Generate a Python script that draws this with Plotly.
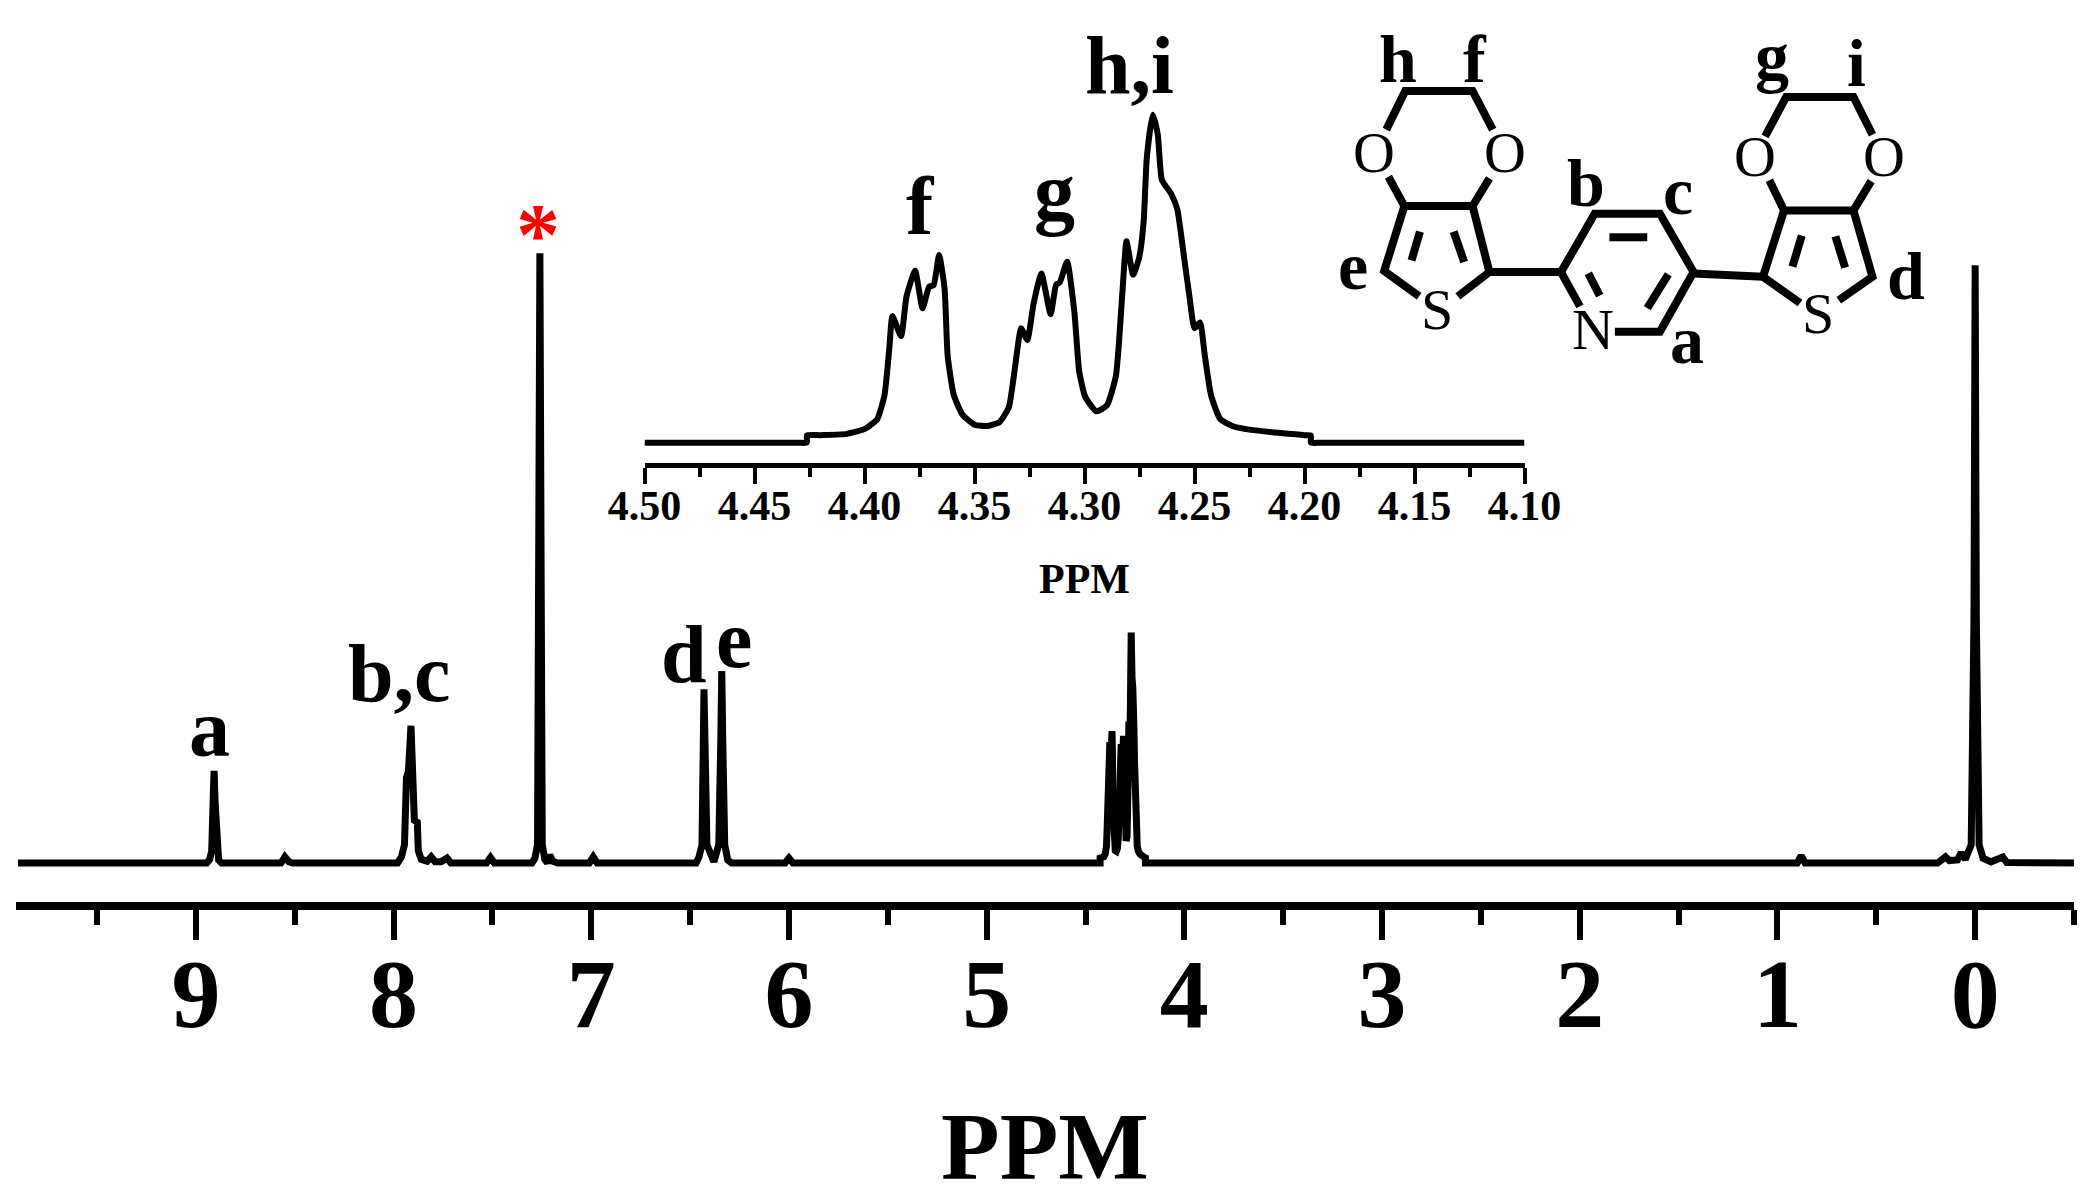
import plotly.graph_objects as go

SERIF = "Liberation Serif"

# main spectrum (ppm, intensity with the CHCl3 peak = 100)
LEFT_PPM = [9.90, 8.945, 8.93, 8.92, 8.913, 8.908, 8.903, 8.895, 8.885, 8.87,
            8.57, 8.55, 8.53, 8.51,
            7.98, 7.96, 7.945, 7.935, 7.925, 7.912, 7.905, 7.895, 7.88, 7.875, 7.86,
            7.83, 7.81, 7.79, 7.76, 7.73, 7.71,
            7.53, 7.51, 7.49,
            7.30, 7.285, 7.272, 7.266, 7.26, 7.254, 7.248, 7.235, 7.222, 7.21, 7.195, 7.17,
            7.01, 6.99, 6.97,
            6.47, 6.455, 6.44, 6.435, 6.43, 6.425, 6.415, 6.38,
            6.355, 6.345, 6.34, 6.335, 6.325, 6.31, 6.29,
            6.02, 6.00, 5.98]
LEFT_INT = [0, 0, 0.6, 2, 10, 15.1, 10, 2, 0.5, 0,
            0, 1, 0.2, 0,
            0, 1, 3, 14, 15, 22.5, 16, 7, 6.7, 2, 0.6,
            0.3, 1, 0.2, 0.2, 0.8, 0,
            0, 0.9, 0,
            0, 0.8, 3, 50, 100, 50, 3, 0.6, 0, 1.3, 0.3, 0,
            0, 1, 0,
            0, 1, 3, 20, 28.5, 20, 3, 0.2,
            3, 20, 31.5, 20, 3, 0.5, 0,
            0, 0.8, 0]
RIGHT_PPM = [0.90, 0.88, 0.86, 0.19, 0.15, 0.13, 0.09, 0.07, 0.05, 0.02,
             0.006, 0, -0.006, -0.02, -0.04, -0.08, -0.11, -0.14, -0.16, -0.5]
RIGHT_INT = [0, 1.2, 0, 0, 1, 0.4, 0.5, 1.7, 0.6, 3,
             40, 98, 40, 3, 0.8, 0.2, 0.5, 1, 0.1, 0]

# zoomed multiplet (intensity with the tallest peak = 100)
INSET_PPM = [4.5, 4.44, 4.43, 4.4262, 4.4262, 4.42, 4.4081, 4.3998, 4.3942, 4.3909, 4.3887, 4.3873, 4.3834,
             4.3809, 4.3770, 4.3736, 4.3706, 4.3686, 4.3661, 4.3636, 4.3622, 4.3594, 4.3553,
             4.3497, 4.3441, 4.3386, 4.3344, 4.3316, 4.3288, 4.3260, 4.3232, 4.3196, 4.3154,
             4.3129, 4.3113, 4.3079, 4.3046, 4.3024, 4.2996, 4.2946, 4.2898, 4.2857, 4.2829,
             4.2809, 4.2779, 4.2751, 4.2731, 4.2717, 4.2690, 4.2667, 4.2648, 4.2606, 4.2578,
             4.2550, 4.2523, 4.2500, 4.2475, 4.2453, 4.2425, 4.2383, 4.2328, 4.2244, 4.2, 4.1971,
             4.1971, 4.193, 4.18, 4.1]
INSET_INT = [0, 0, 0, 0, 2.2, 2.3, 2.7, 4.2, 7.2, 14.5, 28.9, 38.6, 32.5,
             44.6, 52.4, 41.0, 47.6, 48.0, 57.2, 47.0, 26.5, 14.5, 8.4,
             5.4, 5.1, 6.3, 10.8, 22.9, 34.9, 31.3, 42.2, 51.6, 39.2,
             48.2, 48.8, 55.2, 39.8, 21.7, 13.9, 9.6, 11.4, 20.5, 44.6,
             61.4, 51.2, 56.6, 67.5, 86.7, 100, 94.0, 80.1, 75.9, 71.1,
             57.8, 44.6, 34.9, 36.7, 26.5, 14.5, 7.2, 5.1, 3.9, 2.3, 2.2,
             0, 0, 0, 0]
INSET_SCALE = 0.378  # multiplet height in the main spectrum

MAIN_TICKS = [9, 8, 7, 6, 5, 4, 3, 2, 1, 0]
MAIN_MINOR = [9.5, 8.5, 7.5, 6.5, 5.5, 4.5, 3.5, 2.5, 1.5, 0.5, -0.5]
INSET_TICKS = [4.50, 4.45, 4.40, 4.35, 4.30, 4.25, 4.20, 4.15, 4.10]
INSET_MINOR = [4.475, 4.425, 4.375, 4.325, 4.275, 4.225, 4.175, 4.125]

# peak labels: text, ppm, intensity
MAIN_LABELS = [("a", 8.93, 22.1), ("b,c", 7.97, 31), ("d", 6.53, 34.2), ("e", 6.28, 36.6)]
INSET_LABELS = [("f", 4.3747, 72), ("g", 4.3135, 76.7), ("h,i", 4.2795, 115)]

# structure drawing, in its own 1568 x 1188 box
BONDS = [
    [(205, 385), (250, 270), (410, 270), (458, 385)],
    [(210, 525), (248, 612), (410, 612), (450, 530)],
    [(283, 880), (200, 805), (248, 612)],
    [(375, 880), (450, 808), (410, 612)],
    [(285, 688), (265, 773)],
    [(365, 688), (390, 778)],
    [(450, 808), (620, 808)],
    [(665, 910), (620, 808), (700, 635), (855, 635), (935, 808), (855, 985), (748, 985)],
    [(735, 705), (825, 705)],
    [(875, 815), (825, 915)],
    [(685, 812), (712, 878)],
    [(935, 812), (1100, 822)],
    [(1188, 900), (1100, 822), (1150, 625), (1315, 625), (1360, 822), (1280, 892)],
    [(1192, 700), (1170, 792)],
    [(1272, 702), (1295, 795)],
    [(1115, 535), (1150, 625)],
    [(1357, 538), (1315, 625)],
    [(1105, 405), (1155, 288), (1315, 288), (1360, 400)],
]
ATOMS = [("O", 175, 452), ("O", 488, 452), ("S", 325, 920), ("N", 695, 980),
         ("S", 1230, 932), ("O", 1080, 464), ("O", 1388, 464)]
ATOM_LABELS = [("h", 233, 174), ("f", 415, 174), ("e", 125, 789), ("b", 680, 544), ("c", 898, 566),
               ("a", 920, 1009), ("d", 1440, 820), ("g", 1122, 169), ("i", 1322, 186)]

# the multiplet in the main spectrum is the same data as the inset
multiplet = [(p, v * INSET_SCALE) for p, v in zip(INSET_PPM, INSET_INT) if 4.19 < p < 4.435]
main_ppm = LEFT_PPM + [m[0] for m in multiplet] + RIGHT_PPM
main_int = LEFT_INT + [m[1] for m in multiplet] + RIGHT_INT

bond_x, bond_y = [], []
for bond in BONDS:
    bond_x += [p[0] for p in bond] + [None]
    bond_y += [p[1] for p in bond] + [None]

fig = go.Figure()
fig.add_trace(go.Scatter(x=main_ppm, y=main_int, mode="lines", line=dict(color="black", width=7),
                         xaxis="x", yaxis="y", showlegend=False))
fig.add_trace(go.Scatter(x=INSET_PPM, y=INSET_INT, mode="lines",
                         line=dict(color="black", width=6, shape="spline", smoothing=0.5),
                         xaxis="x2", yaxis="y2", showlegend=False))
fig.add_trace(go.Scatter(x=bond_x, y=bond_y, mode="lines", line=dict(color="black", width=8),
                         xaxis="x3", yaxis="y3", showlegend=False))

annotations = []
for text, x, y in MAIN_LABELS:
    annotations.append(dict(text=text, x=x, y=y, xref="x", yref="y", showarrow=False,
                            font=dict(family=SERIF, size=82, color="black", weight=700)))
annotations.append(dict(text="*", x=7.27, y=103, xref="x", yref="y", showarrow=False,
                        font=dict(family=SERIF, size=88, color="#ff0000", weight=700)))
for text, x, y in INSET_LABELS:
    annotations.append(dict(text=text, x=x, y=y, xref="x2", yref="y2", showarrow=False,
                            font=dict(family=SERIF, size=82, color="black", weight=700)))
for text, x, y in ATOMS:
    annotations.append(dict(text=text, x=x, y=y, xref="x3", yref="y3", showarrow=False,
                            font=dict(family=SERIF, size=58, color="black")))
for text, x, y in ATOM_LABELS:
    annotations.append(dict(text=text, x=x, y=y, xref="x3", yref="y3", showarrow=False,
                            font=dict(family=SERIF, size=68, color="black", weight=700)))

fig.update_layout(
    width=2092,
    height=1200,
    margin=dict(l=0, r=0, t=0, b=0),
    paper_bgcolor="white",
    plot_bgcolor="rgba(0,0,0,0)",
    showlegend=False,
    annotations=annotations,
    xaxis=dict(
        domain=[16 / 2092, 2074 / 2092],
        range=[9.91, -0.5],
        automargin=False,
        showgrid=False, zeroline=False,
        showline=True, linecolor="black", linewidth=8,
        ticks="outside", ticklen=30, tickwidth=6, tickcolor="black",
        tickmode="array", tickvals=MAIN_TICKS,
        minor=dict(tickmode="array", tickvals=MAIN_MINOR, ticks="outside",
                   ticklen=15, tickwidth=6, tickcolor="black"),
        tickfont=dict(family=SERIF, size=98, color="black", weight=700),
        ticklabelstandoff=-31,
        title=dict(text="PPM", standoff=77,
                   font=dict(family=SERIF, size=96, color="black", weight=700)),
    ),
    yaxis=dict(domain=[1 - 902 / 1200, 1 - 230 / 1200], range=[-6.39, 103.8],
               automargin=False, visible=False),
    xaxis2=dict(
        domain=[644.5 / 2092, 1524.5 / 2092],
        range=[4.5, 4.1], anchor="y2",
        automargin=False,
        showgrid=False, zeroline=False,
        showline=True, linecolor="black", linewidth=5,
        ticks="outside", ticklen=16, tickwidth=4, tickcolor="black",
        tickmode="array", tickvals=INSET_TICKS, tickformat=".2f",
        minor=dict(tickmode="array", tickvals=INSET_MINOR, ticks="outside",
                   ticklen=9, tickwidth=4, tickcolor="black"),
        tickfont=dict(family=SERIF, size=42, color="black", weight=700),
        ticklabelstandoff=-14,
        title=dict(text="PPM", standoff=37,
                   font=dict(family=SERIF, size=42, color="black", weight=700)),
    ),
    # top of the range leaves room for the h,i label, which would be dropped outside it
    yaxis2=dict(domain=[1 - 462.5 / 1200, 1 - 40 / 1200], range=[-6.04, 122.8],
                anchor="x2", automargin=False, visible=False),
    xaxis3=dict(domain=[1300 / 2092, 1960 / 2092], range=[0, 1568], anchor="y3",
                automargin=False, visible=False),
    yaxis3=dict(domain=[1 - 400 / 1200, 1], range=[1188, 0], anchor="x3",
                automargin=False, visible=False),
)

fig.write_html("out.html", config={"displayModeBar": False},
               post_script="document.body.style.margin='0';")
